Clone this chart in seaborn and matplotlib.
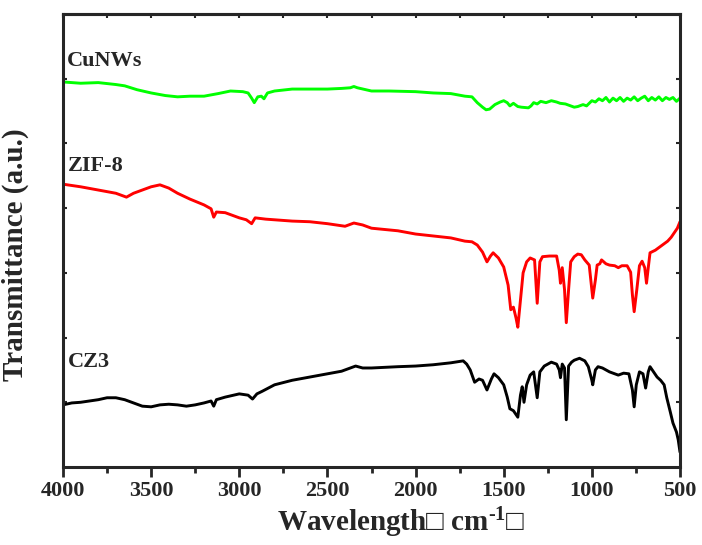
import numpy as np
import pandas as pd
import matplotlib
matplotlib.use('Agg')
import matplotlib.pyplot as plt
import seaborn as sns

# FTIR spectra, wavenumber (cm-1) vs transmittance (a.u., offset)
cunws_x = [4000, 3900, 3800, 3700, 3650, 3580, 3500, 3420, 3350, 3280, 3200, 3120, 3050, 2980,
           2950, 2930, 2915, 2895, 2875, 2860, 2840, 2800, 2700, 2600, 2500, 2420, 2370, 2350,
           2330, 2250, 2150, 2000, 1900, 1800, 1720, 1680, 1650, 1620, 1600, 1580, 1550, 1520,
           1500, 1480, 1465, 1445, 1420, 1400, 1360, 1345, 1330, 1310, 1290, 1260, 1230, 1200,
           1180, 1150, 1120, 1100, 1080, 1050, 1030, 1000, 980, 960, 940, 920, 900, 880, 860,
           840, 820, 800, 780, 760, 740, 720, 700, 680, 660, 640, 620, 600, 580, 560, 540, 520, 500]
cunws_y = [5.95, 5.93, 5.94, 5.91, 5.89, 5.83, 5.78, 5.74, 5.72, 5.73, 5.73, 5.77, 5.81, 5.80,
           5.78, 5.70, 5.63, 5.72, 5.73, 5.69, 5.78, 5.81, 5.84, 5.84, 5.84, 5.85, 5.86, 5.88,
           5.86, 5.81, 5.81, 5.80, 5.78, 5.77, 5.73, 5.72, 5.63, 5.56, 5.52, 5.53, 5.60, 5.64,
           5.66, 5.63, 5.58, 5.62, 5.57, 5.56, 5.55, 5.58, 5.63, 5.61, 5.65, 5.63, 5.66, 5.64,
           5.62, 5.61, 5.58, 5.56, 5.57, 5.60, 5.58, 5.66, 5.64, 5.69, 5.66, 5.71, 5.64, 5.70, 5.66,
           5.71, 5.65, 5.70, 5.67, 5.72, 5.66, 5.70, 5.73, 5.66, 5.71, 5.67, 5.72, 5.66, 5.71, 5.68, 5.71, 5.65, 5.70]

zif8_x = [4000, 3900, 3800, 3700, 3640, 3600, 3550, 3500, 3450, 3400, 3350, 3280, 3200, 3160,
          3145, 3130, 3080, 3000, 2960, 2930, 2910, 2850, 2700, 2600, 2500, 2400, 2350, 2300,
          2250, 2100, 2000, 1900, 1800, 1720, 1680, 1650, 1620, 1595, 1575, 1560, 1530, 1500,
          1475, 1460, 1445, 1430, 1420, 1405, 1390, 1370, 1350, 1325, 1310, 1295, 1280, 1240,
          1200, 1185, 1178, 1168, 1155, 1145, 1132, 1120, 1100, 1080, 1060, 1040, 1015, 995,
          980, 970, 955, 945, 920, 900, 870, 850, 830, 800, 780, 770, 760, 745, 730, 715, 700,
          690, 680, 670, 640, 600, 570, 550, 530, 515, 500]
zif8_y = [4.37, 4.33, 4.28, 4.23, 4.17, 4.23, 4.28, 4.33, 4.36, 4.31, 4.23, 4.14, 4.05, 3.99,
          3.86, 3.94, 3.93, 3.85, 3.82, 3.76, 3.85, 3.83, 3.80, 3.79, 3.76, 3.72, 3.77, 3.74,
          3.69, 3.65, 3.60, 3.57, 3.54, 3.49, 3.48, 3.43, 3.32, 3.17, 3.26, 3.31, 3.23, 3.09,
          2.81, 2.43, 2.47, 2.30, 2.16, 2.58, 3.00, 3.17, 3.23, 3.20, 2.53, 3.17, 3.25, 3.26,
          3.26, 3.04, 2.84, 3.08, 2.74, 2.23, 2.74, 3.17, 3.25, 3.29, 3.28, 3.20, 3.12, 2.61,
          2.89, 3.12, 3.14, 3.20, 3.14, 3.12, 3.11, 3.08, 3.11, 3.11, 3.01, 2.66, 2.40, 2.74, 3.11, 3.18, 3.08,
          2.84, 3.08, 3.31, 3.35, 3.43, 3.49, 3.55, 3.63, 3.69, 3.79]

cz3_x = [4000, 3950, 3900, 3850, 3800, 3750, 3700, 3650, 3600, 3550, 3500, 3450, 3400, 3350,
         3300, 3250, 3200, 3160, 3145, 3130, 3080, 3000, 2950, 2925, 2900, 2870, 2800, 2700,
         2600, 2500, 2420, 2370, 2340, 2300, 2250, 2100, 2000, 1900, 1800, 1730, 1710, 1690,
         1665, 1640, 1620, 1595, 1570, 1555, 1530, 1500, 1480, 1465, 1445, 1420, 1405, 1395,
         1385, 1370, 1350, 1330, 1310, 1295, 1270, 1230, 1200, 1185, 1178, 1168, 1155, 1145,
         1132, 1115, 1100, 1070, 1040, 1020, 1000, 995, 980, 965, 940, 900, 870, 850, 820, 790,
         770, 760, 748, 730, 710, 695, 680, 670, 650, 630, 610, 590, 575, 555, 540, 520, 510, 500]
cz3_y = [0.96, 0.99, 1.00, 1.02, 1.04, 1.07, 1.07, 1.04, 0.99, 0.94, 0.93, 0.96, 0.97, 0.96,
         0.94, 0.96, 0.99, 1.02, 0.94, 1.04, 1.08, 1.13, 1.11, 1.05, 1.13, 1.17, 1.27, 1.34,
         1.39, 1.44, 1.48, 1.53, 1.56, 1.53, 1.53, 1.55, 1.56, 1.58, 1.61, 1.64, 1.59, 1.50,
         1.31, 1.36, 1.34, 1.19, 1.36, 1.44, 1.38, 1.27, 1.08, 0.90, 0.87, 0.77, 1.11, 1.24,
         1.00, 1.27, 1.42, 1.47, 1.07, 1.47, 1.56, 1.62, 1.59, 1.50, 1.38, 1.59, 1.53, 0.73,
         1.56, 1.62, 1.65, 1.68, 1.64, 1.55, 1.34, 1.27, 1.50, 1.55, 1.53, 1.47, 1.44, 1.42, 1.45, 1.44,
         1.19, 0.93, 1.27, 1.47, 1.44, 1.22, 1.47, 1.55, 1.47, 1.39, 1.34, 1.27, 1.07, 0.85, 0.68, 0.54, 0.42, 0.23]

series_names = ['CuNWs', 'ZIF-8', 'CZ3']
series_colors = ['#00ff00', '#ff0000', '#000000']
label_x = [3977, 3972, 3972]
label_y = [6.20, 4.58, 1.55]

x_ticks = [4000, 3500, 3000, 2500, 2000, 1500, 1000, 500]
x_minor = [3750, 3250, 2750, 2250, 1750, 1250, 750]

sns.set_style('ticks')
plt.rcParams['font.family'] = ['Liberation Serif', 'DejaVu Sans']
plt.rcParams['font.weight'] = 'bold'
plt.rcParams['mathtext.fontset'] = 'custom'
plt.rcParams['mathtext.rm'] = 'Liberation Serif:bold'
plt.rcParams['mathtext.it'] = 'Liberation Serif:bold'
plt.rcParams['mathtext.bf'] = 'Liberation Serif:bold'

fig = plt.figure(figsize=(7.02, 5.45), dpi=100)
ax = fig.add_axes([63 / 702, 1 - 467 / 545, 617 / 702, 453 / 545])

frames = [
    pd.DataFrame({'wavenumber': cunws_x, 'T': cunws_y}),
    pd.DataFrame({'wavenumber': zif8_x, 'T': zif8_y}),
    pd.DataFrame({'wavenumber': cz3_x, 'T': cz3_y}),
]
for df, name, col, tx, ty in zip(frames, series_names, series_colors, label_x, label_y):
    sns.lineplot(data=df, x='wavenumber', y='T', color=col, lw=2.1,
                 estimator=None, ax=ax)
    ax.text(tx, ty, name, fontsize=16, fontweight='bold', ha='left', va='baseline')

ax.set_xlim(4000, 500)
ax.set_ylim(0, 7)
ax.set_xticks(x_ticks)
ax.set_xticks(x_minor, minor=True)
ax.set_yticks(range(1, 7))
ax.set_yticklabels([])
for lbl in ax.get_xticklabels():
    lbl.set_fontsize(16)
    lbl.set_fontweight('bold')

for sp in ax.spines.values():
    sp.set_visible(True)
    sp.set_linewidth(2.2)

ax.tick_params(axis='x', which='major', direction='out', length=7, width=2, pad=3)
ax.tick_params(axis='x', which='minor', direction='out', length=4.5, width=2)
ax.tick_params(axis='y', which='major', direction='in', length=3, width=1.5,
               left=True, right=True)

top = ax.secondary_xaxis('top')
top.set_xticks(x_ticks + x_minor)
top.set_xticklabels([])
top.tick_params(direction='in', length=3, width=1.5)
top.spines['top'].set_linewidth(2.2)

ax.set_xlabel('Wavelength\u25a1 cm$^{\\text{-1}}$\u25a1', fontsize=21, fontweight='bold')
ax.xaxis.set_label_coords(0.548, -0.086)
ax.set_ylabel('Transmittance (a.u.)', fontsize=21, fontweight='bold')
ax.yaxis.set_label_coords(-0.055, 0.468)

fig.savefig('out.png', dpi=100)
